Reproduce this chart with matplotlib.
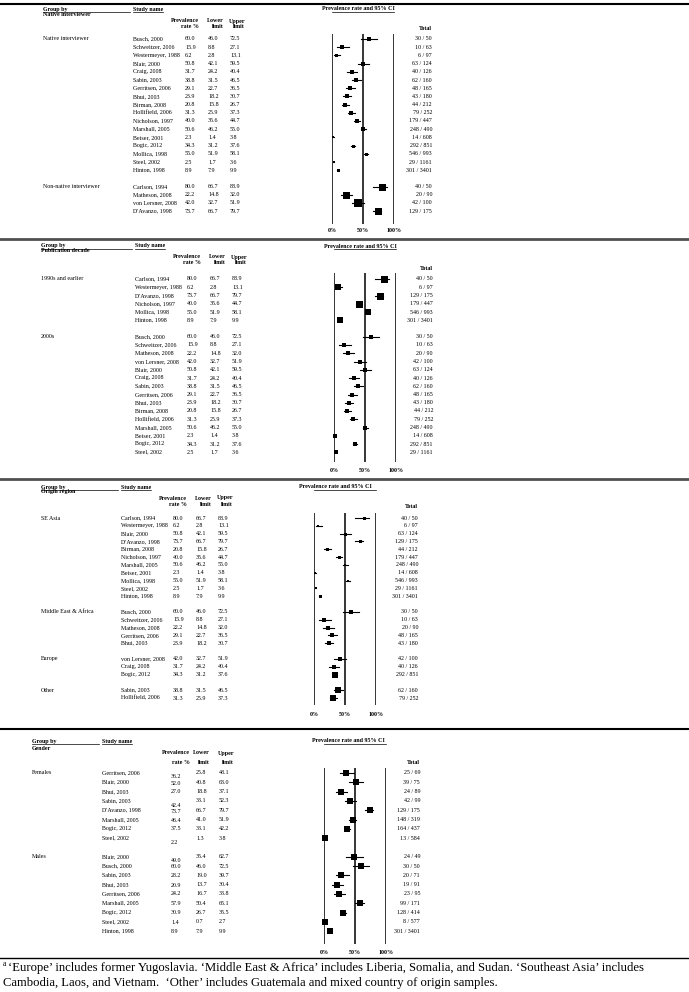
import numpy as np
import matplotlib.pyplot as plt
from matplotlib.transforms import blended_transform_factory

plt.rcParams['font.family'] = ['Liberation Serif', 'DejaVu Serif']

# ---------------- data: one entry per study (same values in the first three panels)
studies = ["Busch, 2000", "Schweitzer, 2006", "Westermeyer, 1988", "Blair, 2000",
           "Craig, 2008", "Sabin, 2003", "Gerritsen, 2006", "Bhui, 2003",
           "Birman, 2008", "Hollifield, 2006", "Nicholson, 1997", "Marshall, 2005",
           "Beiser, 2001", "Bogic, 2012", "Mollica, 1998", "Steel, 2002",
           "Hinton, 1998", "Carlson, 1994", "Matheson, 2008", "von Lersner, 2008",
           "D'Avanzo, 1998"]
rate = [60.0, 15.9, 6.2, 50.8, 31.7, 38.8, 29.1, 23.9, 20.8, 31.3, 40.0, 50.6,
        2.3, 34.3, 55.0, 2.5, 8.9, 80.0, 22.2, 42.0, 73.7]
lower = [46.0, 8.8, 2.8, 42.1, 24.2, 31.5, 22.7, 18.2, 15.8, 25.9, 35.6, 46.2,
         1.4, 31.2, 51.9, 1.7, 7.9, 66.7, 14.8, 32.7, 66.7]
upper = [72.5, 27.1, 13.1, 59.5, 40.4, 46.5, 36.5, 30.7, 26.7, 37.3, 44.7, 55.0,
         3.8, 37.6, 58.1, 3.6, 9.9, 88.9, 32.0, 51.9, 79.7]
events = [30, 10, 6, 63, 40, 62, 48, 43, 44, 79, 179, 248, 14, 292, 546, 29, 301,
          40, 20, 42, 129]
n_total = [50, 63, 97, 124, 126, 160, 165, 180, 212, 252, 447, 490, 608, 851, 993,
           1161, 3401, 50, 90, 100, 175]

# groupings
interviewer_groups = ["Native interviewer", "Non-native interviewer"]
interviewer_members = [
    ["Busch, 2000", "Schweitzer, 2006", "Westermeyer, 1988", "Blair, 2000", "Craig, 2008",
     "Sabin, 2003", "Gerritsen, 2006", "Bhui, 2003", "Birman, 2008", "Hollifield, 2006",
     "Nicholson, 1997", "Marshall, 2005", "Beiser, 2001", "Bogic, 2012", "Mollica, 1998",
     "Steel, 2002", "Hinton, 1998"],
    ["Carlson, 1994", "Matheson, 2008", "von Lersner, 2008", "D'Avanzo, 1998"]]

decade_groups = ["1990s and earlier", "2000s"]
decade_members = [
    ["Carlson, 1994", "Westermeyer, 1988", "D'Avanzo, 1998", "Nicholson, 1997",
     "Mollica, 1998", "Hinton, 1998"],
    ["Busch, 2000", "Schweitzer, 2006", "Matheson, 2008", "von Lersner, 2008", "Blair, 2000",
     "Craig, 2008", "Sabin, 2003", "Gerritsen, 2006", "Bhui, 2003", "Birman, 2008",
     "Hollifield, 2006", "Marshall, 2005", "Beiser, 2001", "Bogic, 2012", "Steel, 2002"]]

region_groups = ["SE Asia", "Middle East & Africa", "Europe", "Other"]
region_members = [
    ["Carlson, 1994", "Westermeyer, 1988", "Blair, 2000", "D'Avanzo, 1998", "Birman, 2008",
     "Nicholson, 1997", "Marshall, 2005", "Beiser, 2001", "Mollica, 1998", "Steel, 2002",
     "Hinton, 1998"],
    ["Busch, 2000", "Schweitzer, 2006", "Matheson, 2008", "Gerritsen, 2006", "Bhui, 2003"],
    ["von Lersner, 2008", "Craig, 2008", "Bogic, 2012"],
    ["Sabin, 2003", "Hollifield, 2006"]]

# gender sub-samples
gender_groups = ["Females", "Males"]
female_names = ["Gerritsen, 2006", "Blair, 2000", "Bhui, 2003", "Sabin, 2003",
                "D'Avanzo, 1998", "Marshall, 2005", "Bogic, 2012", "Steel, 2002"]
female_rate = [36.2, 52.0, 27.0, 42.4, 73.7, 46.4, 37.5, 2.2]
female_lower = [25.8, 40.8, 18.8, 33.1, 66.7, 41.0, 33.1, 1.3]
female_upper = [48.1, 63.0, 37.1, 52.3, 79.7, 51.9, 42.2, 3.8]
female_events = [25, 39, 24, 42, 129, 148, 164, 13]
female_n = [69, 75, 89, 99, 175, 319, 437, 584]

male_names = ["Blair, 2000", "Busch, 2000", "Sabin, 2003", "Bhui, 2003", "Gerritsen, 2006",
              "Marshall, 2005", "Bogic, 2012", "Steel, 2002", "Hinton, 1998"]
male_rate = [49.0, 60.0, 28.2, 20.9, 24.2, 57.9, 30.9, 1.4, 8.9]
male_lower = [35.4, 46.0, 19.0, 13.7, 16.7, 50.4, 26.7, 0.7, 7.9]
male_upper = [62.7, 72.5, 39.7, 30.4, 33.8, 65.1, 35.5, 2.7, 9.9]
male_events = [24, 30, 20, 19, 23, 99, 128, 8, 301]
male_n = [49, 50, 71, 91, 95, 171, 414, 577, 3401]

footnote = ["\u2018Europe\u2019 includes former Yugoslavia. \u2018Middle East & Africa\u2019 includes "
            "Liberia, Somalia, and Sudan. \u2018Southeast Asia\u2019 includes",
            "Cambodia, Laos, and Vietnam.  \u2018Other\u2019 includes Guatemala and mixed "
            "country of origin samples."]


def rows_from_members(members):
    out = []
    for grp in members:
        rr = []
        for s in grp:
            k = studies.index(s)
            rr.append((s, rate[k], lower[k], upper[k], events[k], n_total[k]))
        out.append(rr)
    return out


gender_rows = [list(zip(female_names, female_rate, female_lower, female_upper, female_events, female_n)),
               list(zip(male_names, male_rate, male_lower, male_upper, male_events, male_n))]

# ---------------- figure in pixel units
W, H = 689, 992
fig = plt.figure(figsize=(W / 100, H / 100), dpi=100)
bg = fig.add_axes([0, 0, 1, 1])
bg.set_xlim(0, W)
bg.set_ylim(H, 0)
bg.axis('off')

FS = 4.3
underlines = []


def draw_panel(L, title, labels, rows, sizes, rate_shift=None):
    x0, x1 = L['axis']
    top, bot = L['line_top'], L['line_bot']
    y0, dy = L['row0'], L['dy']
    ax = fig.add_axes([x0 / W, 1 - bot / H, (x1 - x0) / W, (bot - top) / H])
    ax.set_xlim(0, 100)
    ax.set_ylim((bot - y0) / dy, (top - y0) / dy)
    ax.axis('off')
    tr = blended_transform_factory(bg.transData, ax.transData)
    trx = blended_transform_factory(ax.transData, bg.transData)

    # header
    gx = L['group_x']
    t = bg.text(gx, L['gb_y'], "Group by", fontsize=FS, weight='bold', va='center')
    underlines.append((t, None, L['name_x'] - 3))
    bg.text(gx, L['sub_y'], title, fontsize=FS, weight='bold', va='center')
    t = bg.text(L['name_x'], L['gb_y'], "Study name", fontsize=FS, weight='bold', va='center')
    underlines.append((t, None, None))
    t = bg.text(L['ci_x'], L['gb_y'], "Prevalence rate and 95% CI", fontsize=FS,
                weight='bold', va='center')
    underlines.append((t, x0, x1))   # CI header is underlined over the plot width only
    for xr, a, b in [(L['prev_r'], "Prevalence", "rate %"), (L['lo_r'], "Lower", "limit"),
                     (L['hi_r'], "Upper", "limit")]:
        bg.text(xr, L['h1_y'], a, fontsize=FS, weight='bold', va='center', ha='right')
        bg.text(xr, L['h2_y'], b, fontsize=FS, weight='bold', va='center', ha='right')
    bg.text(L['total_x'], L['tot_y'], "Total", fontsize=FS, weight='bold', va='center', ha='right')

    i = 0
    k = 0
    for lab, grp in zip(labels, rows):
        bg.text(gx, i, lab, fontsize=FS, va='center', transform=tr)
        for (name, r, lo, hi, ev, n) in grp:
            bg.text(L['name_x'], i, name, fontsize=FS, va='center', transform=tr)
            sh = rate_shift[k] / dy if rate_shift is not None else 0
            bg.text(L['rate_x'], i + sh, f"{r:.1f}", fontsize=FS, va='center', transform=tr)
            bg.text(L['lo_x'], i, f"{lo:.1f}", fontsize=FS, va='center', transform=tr)
            bg.text(L['hi_x'], i, f"{hi:.1f}", fontsize=FS, va='center', transform=tr)
            bg.text(L['total_x'], i, f"{ev} / {n}", fontsize=FS, va='center', ha='right',
                    transform=tr)
            ax.plot([lo, hi], [i, i], color='black', lw=0.8, clip_on=False)
            ax.plot(r, i, marker='s', ms=sizes[k] * 0.72, color='black', mew=0, clip_on=False)
            i += 1
            k += 1
        i += 1

    for v in [0, 50, 100]:
        ax.axvline(v, color='black', lw=1.1)
    for v, s in zip([0, 50, 100], ["0%", "50%", "100%"]):
        bg.text(v, L['lab_y'], s, fontsize=FS, weight='bold', ha='center', va='center',
                transform=trx)


P1 = dict(group_x=43, gb_y=9, sub_y=15, name_x=133, ci_x=322, h1_y=21, h2_y=27, tot_y=28,
          prev_r=199, lo_r=224, hi_r=245, rate_x=185, lo_x=208, hi_x=230,
          axis=(332, 394), total_x=432, row0=39, dy=8.2, line_top=34, line_bot=224, lab_y=231)
P2 = dict(group_x=41, gb_y=246, sub_y=251, name_x=135, ci_x=324, h1_y=257, h2_y=263, tot_y=268,
          prev_r=201, lo_r=226, hi_r=247, rate_x=187, lo_x=210, hi_x=232,
          axis=(334, 396), total_x=433, row0=279, dy=8.25, line_top=273, line_bot=462, lab_y=470)
P3 = dict(group_x=41, gb_y=487, sub_y=492, name_x=121, ci_x=299, h1_y=498, h2_y=504, tot_y=507,
          prev_r=187, lo_r=212, hi_r=233, rate_x=173, lo_x=196, hi_x=218,
          axis=(314, 376), total_x=418, row0=518, dy=7.83, line_top=513, line_bot=705, lab_y=714)
P4 = dict(group_x=32, gb_y=741, sub_y=748, name_x=102, ci_x=312, h1_y=753, h2_y=762, tot_y=762,
          prev_r=190, lo_r=210, hi_r=234, rate_x=171, lo_x=196, hi_x=219,
          axis=(324, 386), total_x=420, row0=773, dy=9.3, line_top=768, line_bot=944, lab_y=952)

size1 = [4, 3.5, 3, 4, 3.5, 4, 4, 4, 3.5, 3.5, 3.5, 4, 2.5, 3, 3, 2.5, 3, 7, 7, 7.5, 7]
size2 = [7, 6.5, 7, 7, 6, 6.5, 4, 4, 4, 4, 4, 4, 4.5, 4, 4, 4, 4, 3.5, 3.5, 4, 3.5]
size3 = [3, 2.5, 3, 3, 3, 3, 2.5, 2, 2.5, 2, 3, 3.5, 3.5, 4, 4, 4.5, 3.5, 4, 6, 6, 6.5]
size4 = [6.5, 6.5, 6.5, 6, 6.5, 6.5, 6, 6.5, 6, 6.5, 6, 6.5, 6, 6.5, 6, 6, 6.5]
shift4 = [3.7, 1.5, 0, 4.5, 1.5, 1.3, 0, 4.7, 3.3, 1, 0, 1, 0, 0, 0, 0.7, 0]

draw_panel(P1, "Native interviewer", interviewer_groups, rows_from_members(interviewer_members), size1)
draw_panel(P2, "Publication decade", decade_groups, rows_from_members(decade_members), size2)
draw_panel(P3, "Origin region", region_groups, rows_from_members(region_members), size3)
draw_panel(P4, "Gender", gender_groups, gender_rows, size4, rate_shift=shift4)

# panel separators
bg.axhline(4, color='black', lw=1.5)
bg.axhline(239, color='#505050', lw=2.0)
bg.axhline(479, color='#505050', lw=2.0)
bg.axhline(729, color='black', lw=1.5)
bg.axhline(958, color='black', lw=1.0)

# footnote
bg.text(3, 964, "a", fontsize=5.5, va='center')
bg.text(8, 968, footnote[0], fontsize=9.1, va='center')
bg.text(3, 983, footnote[1], fontsize=9.1, va='center')

# underlines under header texts
fig.canvas.draw()
rend = fig.canvas.get_renderer()
inv = bg.transData.inverted()
for t, x_start, x_end in underlines:
    bb = t.get_window_extent(rend)
    (xa, yb), (xb, _) = inv.transform([[bb.x0, bb.y0], [bb.x1, bb.y1]])
    if x_start is not None:
        xa = x_start
    if x_end is not None:
        xb = x_end
    bg.plot([xa, xb], [yb + 0.3, yb + 0.3], color='black', lw=0.5)

fig.savefig("out.png", dpi=100)
